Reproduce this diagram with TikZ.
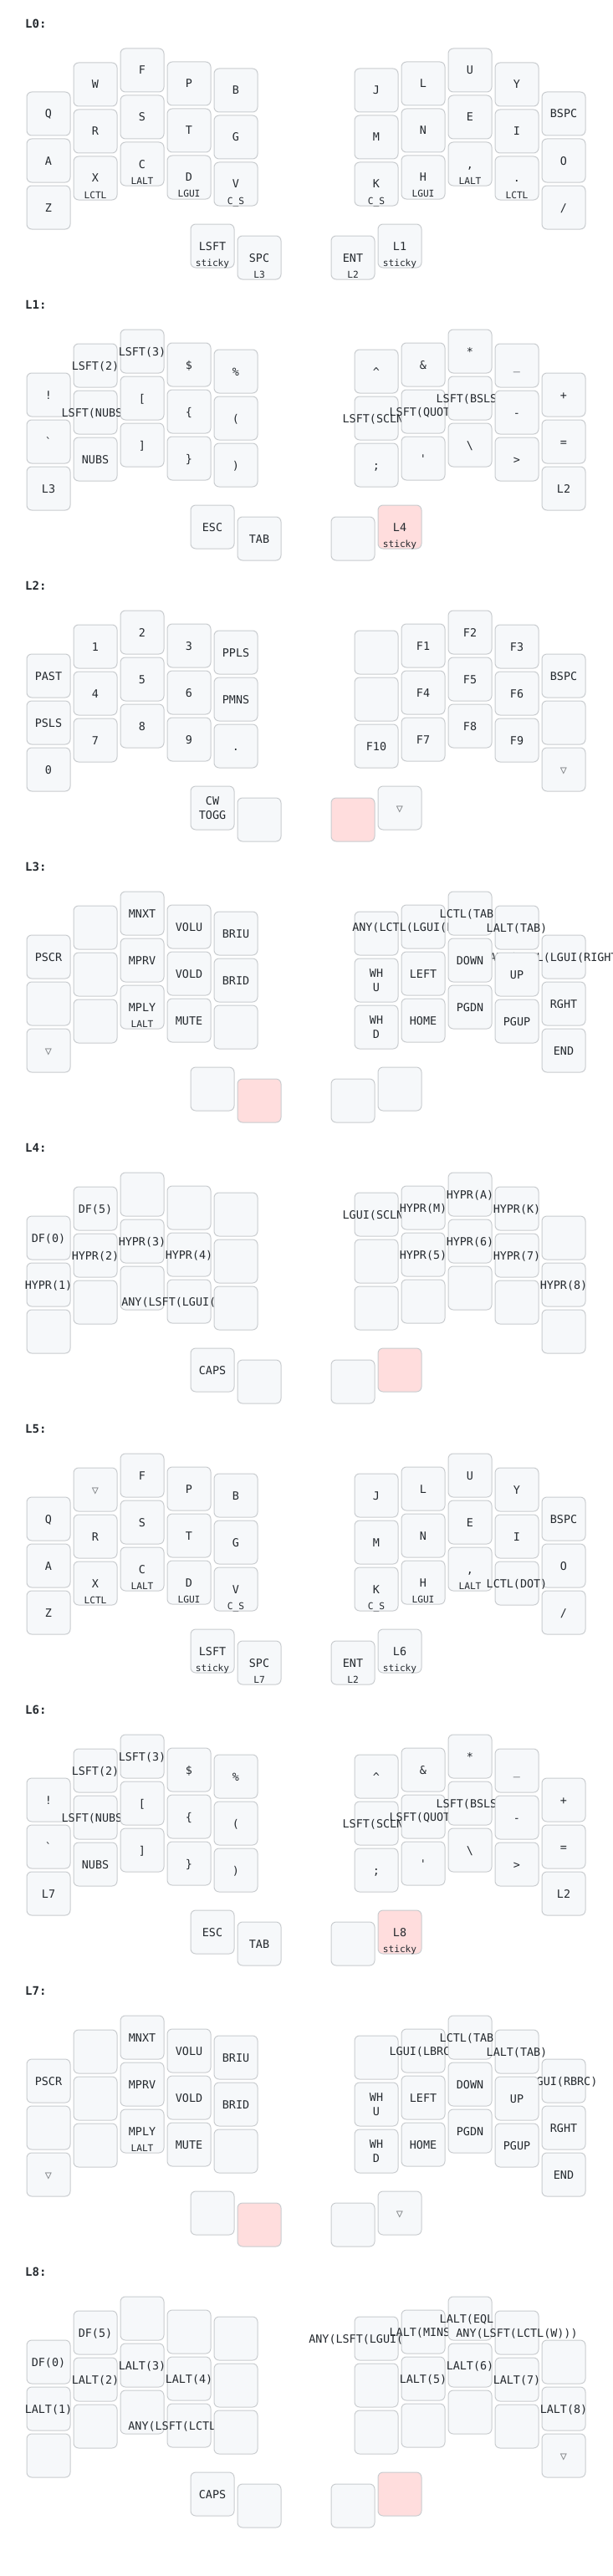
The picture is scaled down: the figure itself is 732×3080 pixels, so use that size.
\documentclass[tikz,border=0pt]{standalone}
\usepackage{fontspec}
\setmonofont{DejaVu Sans Mono}
\definecolor{keyfill}{HTML}{F6F8FA}
\definecolor{keystroke}{HTML}{C9CCCF}
\definecolor{heldfill}{HTML}{FFDDDD}
\definecolor{txt}{HTML}{24292E}
\definecolor{transc}{HTML}{7B7E81}
\newcommand\tapfont{\ttfamily\fontsize{13.4}{16}\selectfont}
\newcommand\holdfont{\ttfamily\fontsize{11.2}{13}\selectfont}
\newcommand\lblfont{\ttfamily\bfseries\fontsize{14}{16}\selectfont}
\newcommand\tri{\textcolor{transc}{▽}}
\newcommand\defpos[3]{\expandafter\def\csname kx#1\endcsname{#2}\expandafter\def\csname ky#1\endcsname{#3}}
\defpos{0}{58}{136}\defpos{1}{114}{101}\defpos{2}{170}{84}\defpos{3}{226}{100}\defpos{4}{282}{108}
\defpos{5}{450}{108}\defpos{6}{506}{100}\defpos{7}{562}{84}\defpos{8}{618}{101}\defpos{9}{674}{136}
\defpos{10}{58}{192}\defpos{11}{114}{157}\defpos{12}{170}{140}\defpos{13}{226}{156}\defpos{14}{282}{164}
\defpos{15}{450}{164}\defpos{16}{506}{156}\defpos{17}{562}{140}\defpos{18}{618}{157}\defpos{19}{674}{192}
\defpos{20}{58}{248}\defpos{21}{114}{213}\defpos{22}{170}{196}\defpos{23}{226}{212}\defpos{24}{282}{220}
\defpos{25}{450}{220}\defpos{26}{506}{212}\defpos{27}{562}{196}\defpos{28}{618}{213}\defpos{29}{674}{248}
\defpos{30}{254}{294}\defpos{31}{310}{308}\defpos{32}{422}{308}\defpos{33}{478}{294}
\tikzset{
  keybox/.style={draw=keystroke, fill=keyfill, rounded corners=6pt, minimum width=52pt, minimum height=52pt, inner sep=0pt, outer sep=0pt, line width=1pt},
  heldbox/.style={keybox, fill=heldfill},
  tapb/.style={anchor=base, inner sep=0pt, font=\tapfont, text=txt},
  tapt/.style={tapb, yshift=-5pt},
  holdt/.style={anchor=base, inner sep=0pt, font=\holdfont, text=txt, yshift=-24pt},
  lbl/.style={anchor=base west, inner sep=0pt, font=\lblfont, text=txt},
}
\newcommand\K[4]{%
  \edef\kx{\csname kx#1\endcsname}\edef\ky{\csname ky#1\endcsname}%
  \node[#2] (k#1) at (\kx,\ky) {};
  \if\relax\detokenize{#3}\relax\else\node[tapt] (k#1t) at (k#1.center) {#3};\fi
  \if\relax\detokenize{#4}\relax\else\node[holdt] (k#1h) at (k#1.center) {#4};\fi
}
\newcommand\KK[4]{%
  \edef\kx{\csname kx#1\endcsname}\edef\ky{\csname ky#1\endcsname}%
  \node[#2] (k#1) at (\kx,\ky) {};
  \node[tapb, yshift=4pt] (k#1t) at (k#1.center) {#3};
  \node[tapb, yshift=-13.3pt] (k#1u) at (k#1.center) {#4};
}
\begin{document}
\begin{tikzpicture}[x=1pt, y=-1pt]
\useasboundingbox (0,0) rectangle (732,3080);
\fill[white] (0,0) rectangle (732,3080);
% ---------------- L0
\begin{scope}[name prefix=L0-]
\node[lbl] (lab) at (30,33.3) {L0:};
\K{0}{keybox}{Q}{}\K{1}{keybox}{W}{}\K{2}{keybox}{F}{}\K{3}{keybox}{P}{}\K{4}{keybox}{B}{}
\K{5}{keybox}{J}{}\K{6}{keybox}{L}{}\K{7}{keybox}{U}{}\K{8}{keybox}{Y}{}\K{9}{keybox}{BSPC}{}
\K{10}{keybox}{A}{}\K{11}{keybox}{R}{}\K{12}{keybox}{S}{}\K{13}{keybox}{T}{}\K{14}{keybox}{G}{}
\K{15}{keybox}{M}{}\K{16}{keybox}{N}{}\K{17}{keybox}{E}{}\K{18}{keybox}{I}{}\K{19}{keybox}{O}{}
\K{20}{keybox}{Z}{}\K{21}{keybox}{X}{LCTL}\K{22}{keybox}{C}{LALT}\K{23}{keybox}{D}{LGUI}\K{24}{keybox}{V}{C\_S}
\K{25}{keybox}{K}{C\_S}\K{26}{keybox}{H}{LGUI}\K{27}{keybox}{,}{LALT}\K{28}{keybox}{.}{LCTL}\K{29}{keybox}{/}{}
\K{30}{keybox}{LSFT}{sticky}\K{31}{keybox}{SPC}{L3}\K{32}{keybox}{ENT}{L2}\K{33}{keybox}{L1}{sticky}
\end{scope}
% ---------------- L1
\begin{scope}[yshift=-336pt, name prefix=L1-]
\node[lbl] (lab) at (30,33.3) {L1:};
\K{0}{keybox}{!}{}\K{1}{keybox}{LSFT(2)}{}\K{2}{keybox}{LSFT(3)}{}\K{3}{keybox}{\$}{}\K{4}{keybox}{\%}{}
\K{5}{keybox}{\textasciicircum}{}\K{6}{keybox}{\&}{}\K{7}{keybox}{*}{}\K{8}{keybox}{\_}{}\K{9}{keybox}{+}{}
\K{10}{keybox}{`}{}\K{11}{keybox}{LSFT(NUBS)}{}\K{12}{keybox}{[}{}\K{13}{keybox}{\{}{}\K{14}{keybox}{(}{}
\K{15}{keybox}{LSFT(SCLN)}{}\K{16}{keybox}{LSFT(QUOT)}{}\K{17}{keybox}{LSFT(BSLS)}{}\K{18}{keybox}{-}{}\K{19}{keybox}{=}{}
\K{20}{keybox}{L3}{}\K{21}{keybox}{NUBS}{}\K{22}{keybox}{]}{}\K{23}{keybox}{\}}{}\K{24}{keybox}{)}{}
\K{25}{keybox}{;}{}\K{26}{keybox}{'}{}\K{27}{keybox}{\textbackslash}{}\K{28}{keybox}{>}{}\K{29}{keybox}{L2}{}
\K{30}{keybox}{ESC}{}\K{31}{keybox}{TAB}{}\K{32}{keybox}{}{}\K{33}{heldbox}{L4}{sticky}
\end{scope}
% ---------------- L2
\begin{scope}[yshift=-672pt, name prefix=L2-]
\node[lbl] (lab) at (30,33.3) {L2:};
\K{0}{keybox}{PAST}{}\K{1}{keybox}{1}{}\K{2}{keybox}{2}{}\K{3}{keybox}{3}{}\K{4}{keybox}{PPLS}{}
\K{5}{keybox}{}{}\K{6}{keybox}{F1}{}\K{7}{keybox}{F2}{}\K{8}{keybox}{F3}{}\K{9}{keybox}{BSPC}{}
\K{10}{keybox}{PSLS}{}\K{11}{keybox}{4}{}\K{12}{keybox}{5}{}\K{13}{keybox}{6}{}\K{14}{keybox}{PMNS}{}
\K{15}{keybox}{}{}\K{16}{keybox}{F4}{}\K{17}{keybox}{F5}{}\K{18}{keybox}{F6}{}\K{19}{keybox}{}{}
\K{20}{keybox}{0}{}\K{21}{keybox}{7}{}\K{22}{keybox}{8}{}\K{23}{keybox}{9}{}\K{24}{keybox}{.}{}
\K{25}{keybox}{F10}{}\K{26}{keybox}{F7}{}\K{27}{keybox}{F8}{}\K{28}{keybox}{F9}{}\K{29}{keybox}{\tri}{}
\KK{30}{keybox}{CW}{TOGG}\K{31}{keybox}{}{}\K{32}{heldbox}{}{}\K{33}{keybox}{\tri}{}
\end{scope}
% ---------------- L3
\begin{scope}[yshift=-1008pt, name prefix=L3-]
\node[lbl] (lab) at (30,33.3) {L3:};
\K{0}{keybox}{PSCR}{}\K{1}{keybox}{}{}\K{2}{keybox}{MNXT}{}\K{3}{keybox}{VOLU}{}\K{4}{keybox}{BRIU}{}
\K{5}{keybox}{}{}\K{6}{keybox}{ANY(LCTL(LGUI(LEFT)))}{}\K{7}{keybox}{LCTL(TAB)}{}\K{8}{keybox}{LALT(TAB)}{}\K{9}{keybox}{ANY(LCTL(LGUI(RIGHT)))}{}
\K{10}{keybox}{}{}\K{11}{keybox}{}{}\K{12}{keybox}{MPRV}{}\K{13}{keybox}{VOLD}{}\K{14}{keybox}{BRID}{}
\KK{15}{keybox}{WH}{U}\K{16}{keybox}{LEFT}{}\K{17}{keybox}{DOWN}{}\K{18}{keybox}{UP}{}\K{19}{keybox}{RGHT}{}
\K{20}{keybox}{\tri}{}\K{21}{keybox}{}{}\K{22}{keybox}{MPLY}{LALT}\K{23}{keybox}{MUTE}{}\K{24}{keybox}{}{}
\KK{25}{keybox}{WH}{D}\K{26}{keybox}{HOME}{}\K{27}{keybox}{PGDN}{}\K{28}{keybox}{PGUP}{}\K{29}{keybox}{END}{}
\K{30}{keybox}{}{}\K{31}{heldbox}{}{}\K{32}{keybox}{}{}\K{33}{keybox}{}{}
\end{scope}
% ---------------- L4
\begin{scope}[yshift=-1344pt, name prefix=L4-]
\node[lbl] (lab) at (30,33.3) {L4:};
\K{0}{keybox}{DF(0)}{}\K{1}{keybox}{DF(5)}{}\K{2}{keybox}{}{}\K{3}{keybox}{}{}\K{4}{keybox}{}{}
\K{5}{keybox}{LGUI(SCLN)}{}\K{6}{keybox}{HYPR(M)}{}\K{7}{keybox}{HYPR(A)}{}\K{8}{keybox}{HYPR(K)}{}\K{9}{keybox}{}{}
\K{10}{keybox}{HYPR(1)}{}\K{11}{keybox}{HYPR(2)}{}\K{12}{keybox}{HYPR(3)}{}\K{13}{keybox}{HYPR(4)}{}\K{14}{keybox}{}{}
\K{15}{keybox}{}{}\K{16}{keybox}{HYPR(5)}{}\K{17}{keybox}{HYPR(6)}{}\K{18}{keybox}{HYPR(7)}{}\K{19}{keybox}{HYPR(8)}{}
\K{20}{keybox}{}{}\K{21}{keybox}{}{}\K{22}{keybox}{}{}\K{23}{keybox}{ANY(LSFT(LGUI(SPC)))}{}\K{24}{keybox}{}{}
\K{25}{keybox}{}{}\K{26}{keybox}{}{}\K{27}{keybox}{}{}\K{28}{keybox}{}{}\K{29}{keybox}{}{}
\K{30}{keybox}{CAPS}{}\K{31}{keybox}{}{}\K{32}{keybox}{}{}\K{33}{heldbox}{}{}
\end{scope}
% ---------------- L5
\begin{scope}[yshift=-1680pt, name prefix=L5-]
\node[lbl] (lab) at (30,33.3) {L5:};
\K{0}{keybox}{Q}{}\K{1}{keybox}{\tri}{}\K{2}{keybox}{F}{}\K{3}{keybox}{P}{}\K{4}{keybox}{B}{}
\K{5}{keybox}{J}{}\K{6}{keybox}{L}{}\K{7}{keybox}{U}{}\K{8}{keybox}{Y}{}\K{9}{keybox}{BSPC}{}
\K{10}{keybox}{A}{}\K{11}{keybox}{R}{}\K{12}{keybox}{S}{}\K{13}{keybox}{T}{}\K{14}{keybox}{G}{}
\K{15}{keybox}{M}{}\K{16}{keybox}{N}{}\K{17}{keybox}{E}{}\K{18}{keybox}{I}{}\K{19}{keybox}{O}{}
\K{20}{keybox}{Z}{}\K{21}{keybox}{X}{LCTL}\K{22}{keybox}{C}{LALT}\K{23}{keybox}{D}{LGUI}\K{24}{keybox}{V}{C\_S}
\K{25}{keybox}{K}{C\_S}\K{26}{keybox}{H}{LGUI}\K{27}{keybox}{,}{LALT}\K{28}{keybox}{LCTL(DOT)}{}\K{29}{keybox}{/}{}
\K{30}{keybox}{LSFT}{sticky}\K{31}{keybox}{SPC}{L7}\K{32}{keybox}{ENT}{L2}\K{33}{keybox}{L6}{sticky}
\end{scope}
% ---------------- L6
\begin{scope}[yshift=-2016pt, name prefix=L6-]
\node[lbl] (lab) at (30,33.3) {L6:};
\K{0}{keybox}{!}{}\K{1}{keybox}{LSFT(2)}{}\K{2}{keybox}{LSFT(3)}{}\K{3}{keybox}{\$}{}\K{4}{keybox}{\%}{}
\K{5}{keybox}{\textasciicircum}{}\K{6}{keybox}{\&}{}\K{7}{keybox}{*}{}\K{8}{keybox}{\_}{}\K{9}{keybox}{+}{}
\K{10}{keybox}{`}{}\K{11}{keybox}{LSFT(NUBS)}{}\K{12}{keybox}{[}{}\K{13}{keybox}{\{}{}\K{14}{keybox}{(}{}
\K{15}{keybox}{LSFT(SCLN)}{}\K{16}{keybox}{LSFT(QUOT)}{}\K{17}{keybox}{LSFT(BSLS)}{}\K{18}{keybox}{-}{}\K{19}{keybox}{=}{}
\K{20}{keybox}{L7}{}\K{21}{keybox}{NUBS}{}\K{22}{keybox}{]}{}\K{23}{keybox}{\}}{}\K{24}{keybox}{)}{}
\K{25}{keybox}{;}{}\K{26}{keybox}{'}{}\K{27}{keybox}{\textbackslash}{}\K{28}{keybox}{>}{}\K{29}{keybox}{L2}{}
\K{30}{keybox}{ESC}{}\K{31}{keybox}{TAB}{}\K{32}{keybox}{}{}\K{33}{heldbox}{L8}{sticky}
\end{scope}
% ---------------- L7
\begin{scope}[yshift=-2352pt, name prefix=L7-]
\node[lbl] (lab) at (30,33.3) {L7:};
\K{0}{keybox}{PSCR}{}\K{1}{keybox}{}{}\K{2}{keybox}{MNXT}{}\K{3}{keybox}{VOLU}{}\K{4}{keybox}{BRIU}{}
\K{5}{keybox}{}{}\K{6}{keybox}{LGUI(LBRC)}{}\K{7}{keybox}{LCTL(TAB)}{}\K{8}{keybox}{LALT(TAB)}{}\K{9}{keybox}{LGUI(RBRC)}{}
\K{10}{keybox}{}{}\K{11}{keybox}{}{}\K{12}{keybox}{MPRV}{}\K{13}{keybox}{VOLD}{}\K{14}{keybox}{BRID}{}
\KK{15}{keybox}{WH}{U}\K{16}{keybox}{LEFT}{}\K{17}{keybox}{DOWN}{}\K{18}{keybox}{UP}{}\K{19}{keybox}{RGHT}{}
\K{20}{keybox}{\tri}{}\K{21}{keybox}{}{}\K{22}{keybox}{MPLY}{LALT}\K{23}{keybox}{MUTE}{}\K{24}{keybox}{}{}
\KK{25}{keybox}{WH}{D}\K{26}{keybox}{HOME}{}\K{27}{keybox}{PGDN}{}\K{28}{keybox}{PGUP}{}\K{29}{keybox}{END}{}
\K{30}{keybox}{}{}\K{31}{heldbox}{}{}\K{32}{keybox}{}{}\K{33}{keybox}{\tri}{}
\end{scope}
% ---------------- L8
\begin{scope}[yshift=-2688pt, name prefix=L8-]
\node[lbl] (lab) at (30,33.3) {L8:};
\K{0}{keybox}{DF(0)}{}\K{1}{keybox}{DF(5)}{}\K{2}{keybox}{}{}\K{3}{keybox}{}{}\K{4}{keybox}{}{}
\K{5}{keybox}{ANY(LSFT(LGUI(SPC)))}{}\K{6}{keybox}{LALT(MINS)}{}\K{7}{keybox}{LALT(EQL)}{}\K{8}{keybox}{ANY(LSFT(LCTL(W)))}{}\K{9}{keybox}{}{}
\K{10}{keybox}{LALT(1)}{}\K{11}{keybox}{LALT(2)}{}\K{12}{keybox}{LALT(3)}{}\K{13}{keybox}{LALT(4)}{}\K{14}{keybox}{}{}
\K{15}{keybox}{}{}\K{16}{keybox}{LALT(5)}{}\K{17}{keybox}{LALT(6)}{}\K{18}{keybox}{LALT(7)}{}\K{19}{keybox}{LALT(8)}{}
\K{20}{keybox}{}{}\K{21}{keybox}{}{}\K{22}{keybox}{}{}\K{23}{keybox}{ANY(LSFT(LCTL(Z)))}{}\K{24}{keybox}{}{}
\K{25}{keybox}{}{}\K{26}{keybox}{}{}\K{27}{keybox}{}{}\K{28}{keybox}{}{}\K{29}{keybox}{\tri}{}
\K{30}{keybox}{CAPS}{}\K{31}{keybox}{}{}\K{32}{keybox}{}{}\K{33}{heldbox}{}{}
\end{scope}
\end{tikzpicture}
\end{document}
